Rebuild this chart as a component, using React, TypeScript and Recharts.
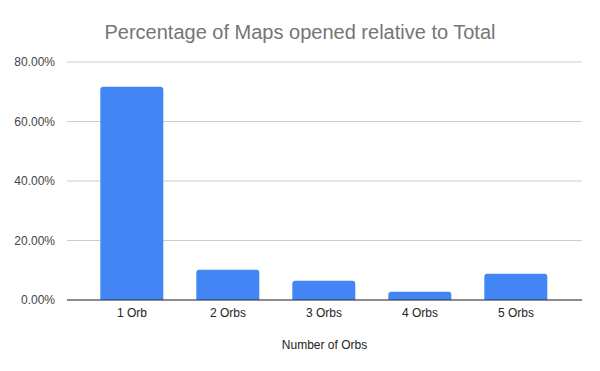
import React from "react";
import { BarChart, Bar, XAxis, YAxis, CartesianGrid } from "recharts";

const categories = ["1 Orb", "2 Orbs", "3 Orbs", "4 Orbs", "5 Orbs"];
const percentages = [71.7, 10.2, 6.5, 2.8, 8.8];
const yTicks = [0, 20, 40, 60, 80];

const data = categories.map((orbs, i) => ({ orbs, percentage: percentages[i] }));

const FONT = "Arial, 'Liberation Sans', sans-serif";

export default function App() {
  return (
    <div
      style={{
        position: "absolute",
        left: 0,
        top: 0,
        width: 600,
        height: 371,
        background: "#fff",
        fontFamily: FONT,
      }}
    >
      <div
        style={{
          position: "absolute",
          left: 0,
          top: 20,
          width: 600,
          textAlign: "center",
          fontSize: 20,
          color: "#757575",
          lineHeight: "24px",
        }}
      >
        Percentage of Maps opened relative to Total
      </div>
      <BarChart
        width={600}
        height={371}
        data={data}
        margin={{ top: 62, right: 18, bottom: 0, left: 0 }}
        barCategoryGap="17%"
      >
        <CartesianGrid vertical={false} stroke="#cccccc" />
        <XAxis
          dataKey="orbs"
          height={71}
          padding={{ left: 17, right: 18 }}
          tickLine={false}
          axisLine={{ stroke: "#333333" }}
          tick={{ fontSize: 12, fill: "#222222", fontFamily: FONT }}
          tickMargin={2}
          label={{
            value: "Number of Orbs",
            position: "insideBottom",
            offset: 22,
            fontSize: 12,
            fill: "#222222",
            fontFamily: FONT,
          }}
        />
        <YAxis
          width={67}
          domain={[0, 80]}
          ticks={yTicks}
          tickLine={false}
          axisLine={false}
          tickMargin={6}
          tick={{ fontSize: 12, fill: "#444444", fontFamily: FONT }}
          tickFormatter={(v: number) => `${v.toFixed(2)}%`}
        />
        <Bar
          dataKey="percentage"
          fill="#4285f4"
          radius={[3, 3, 0, 0]}
          isAnimationActive={false}
        />
      </BarChart>
    </div>
  );
}
